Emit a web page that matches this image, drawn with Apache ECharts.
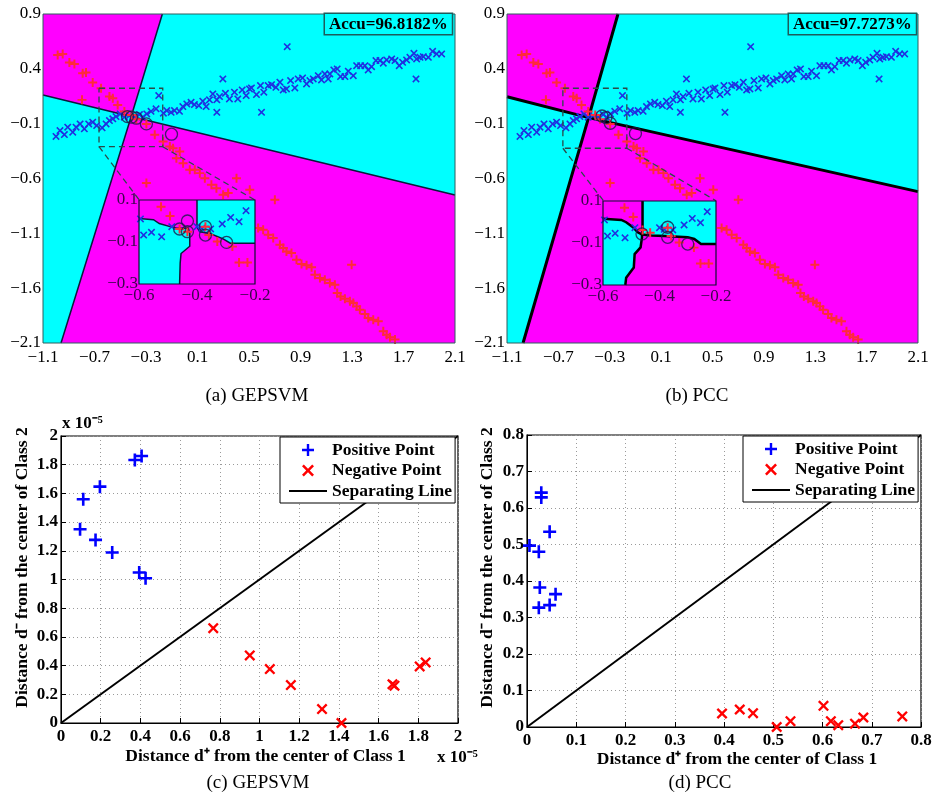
<!DOCTYPE html>
<html>
<head>
<meta charset="utf-8">
<script src="https://cdn.jsdelivr.net/npm/echarts@6/dist/echarts.min.js"></script>
<style>
  html, body { margin: 0; padding: 0; background: #fff; }
  #chart { width: 933px; height: 800px; }
</style>
</head>
<body>
<div id="chart"></div>
<script>
// tick labels
const topXTicks = [-1.1, -0.7, -0.3, 0.1, 0.5, 0.9, 1.3, 1.7, 2.1];
const topYTicks = [-2.1, -1.6, -1.1, -0.6, -0.1, 0.4, 0.9];
const insetXTicks = [-0.6, -0.4, -0.2];
const insetYTicks = [-0.3, -0.1, 0.1];

// (a)/(b) data set: class 1 (blue x) and class 2 (red +)
const class1Points = [
  [-0.999,-0.217],[-0.968,-0.163],[-0.934,-0.199],[-0.908,-0.132],[-0.869,-0.178],[-0.843,-0.132],
  [-0.812,-0.102],[-0.779,-0.147],[-0.745,-0.102],[-0.714,-0.087],[-0.683,-0.117],[-0.641,-0.138],
  [-0.610,-0.102],[-0.584,-0.072],[-0.558,-0.056],[-0.533,-0.035],[-0.501,-0.011],[-0.468,-0.041],
  [-0.429,-0.026],[-0.390,-0.041],[-0.351,-0.017],[-0.325,-0.041],[-0.294,-0.011],[-0.261,0.013],
  [-0.222,0.035],[-0.201,0.156],[-0.165,-0.005],[-0.139,0.020],[-0.105,0.004],[-0.079,0.020],
  [-0.040,0.013],[-0.014,0.056],[0.017,0.080],[0.050,0.095],[0.076,0.074],[0.110,0.065],
  [0.141,0.105],[0.167,0.056],[0.193,0.117],[0.219,0.171],[0.250,0.117],[0.271,0.147],
  [0.297,0.308],[0.250,0.004],[0.317,0.177],[0.348,0.126],[0.387,0.187],[0.413,0.126],
  [0.447,0.208],[0.478,0.156],[0.504,0.217],[0.519,0.226],[0.558,0.165],[0.589,0.247],
  [0.615,0.187],[0.649,0.247],[0.675,0.256],[0.709,0.232],[0.740,0.278],[0.766,0.208],
  [0.791,0.217],[0.823,0.293],[0.856,0.226],[0.882,0.308],[0.916,0.317],[0.947,0.262],
  [0.973,0.293],[0.999,0.308],[1.038,0.338],[1.063,0.299],[1.089,0.354],[1.115,0.308],
  [1.128,0.354],[1.159,0.390],[1.185,0.399],[1.211,0.329],[1.245,0.329],[1.271,0.378],
  [1.310,0.338],[1.336,0.429],[1.367,0.429],[1.400,0.429],[1.426,0.390],[1.452,0.420],
  [1.486,0.475],[1.517,0.475],[1.543,0.451],[1.569,0.481],[1.608,0.490],[1.634,0.475],
  [1.667,0.429],[1.693,0.460],[1.724,0.481],[1.750,0.505],[1.781,0.542],[1.802,0.490],
  [1.828,0.505],[1.854,0.511],[1.893,0.505],[1.926,0.560],[1.957,0.536],[1.996,0.536],
  [0.797,0.602],[1.797,0.308],[0.597,0.004]
];
const class2Points = [
  [-0.986,0.527],[-0.947,0.536],[-0.895,0.457],[-0.856,0.445],[-0.792,0.360],[-0.766,0.366],
  [-0.714,0.275],[-0.649,0.223],[-0.584,0.147],[-0.558,0.132],[-0.520,0.071],[-0.797,0.117],
  [-0.468,0.010],[-0.413,-0.020],[-0.375,-0.059],[-0.297,-0.102],[-0.232,-0.202],[-0.167,-0.263],
  [-0.115,-0.308],[-0.090,-0.324],[-0.038,-0.354],[-0.064,-0.415],[-0.012,-0.460],[0.040,-0.521],
  [0.079,-0.521],[0.118,-0.551],[0.157,-0.597],[0.208,-0.657],[0.247,-0.688],[0.299,-0.749],
  [0.338,-0.733],[0.403,-0.597],[0.506,-0.703],[0.701,-0.794],[-0.297,-0.642],[0.571,-1.052],
  [0.610,-1.067],[0.649,-1.113],[0.688,-1.143],[0.740,-1.204],[0.766,-1.234],[0.791,-1.265],
  [0.830,-1.280],[0.869,-1.341],[0.908,-1.380],[0.947,-1.392],[0.986,-1.410],[1.012,-1.477],
  [1.051,-1.508],[1.089,-1.523],[1.128,-1.553],[1.167,-1.568],[1.185,-1.644],[1.211,-1.675],
  [1.245,-1.696],[1.284,-1.720],[1.310,-1.735],[1.336,-1.766],[1.361,-1.796],[1.400,-1.835],
  [1.426,-1.872],[1.465,-1.887],[1.504,-1.902],[1.543,-1.993],[1.569,-2.024],[1.595,-2.048],
  [1.634,-2.069],[1.297,-1.386]
];
const gepsvmCircles = [[-0.444,-0.035],[-0.413,-0.041],[-0.375,-0.050],[-0.297,-0.102],[-0.102,-0.196]];
const pccCircles = [[-0.36,-0.03],[-0.33,-0.045],[-0.296,-0.096],[-0.10,-0.19]];

// zoomed window data
const insetClass1 = [[-0.595,0.010],[-0.584,-0.067],[-0.557,-0.054],[-0.522,-0.075],[-0.487,-0.027],
  [-0.400,-0.027],[-0.383,-0.035],[-0.353,-0.038],[-0.313,-0.014],[-0.284,0.017],[-0.255,-0.003],[-0.231,0.049]];
const insetClass2 = [[-0.524,0.068],[-0.493,0.024],[-0.460,-0.038],[-0.433,-0.051],[-0.371,-0.027],
  [-0.359,-0.067],[-0.330,-0.098],[-0.278,-0.122],[-0.255,-0.198],[-0.226,-0.198]];
const insetGepsvmCircles = [[-0.460,-0.038],[-0.433,0.000],[-0.433,-0.051],[-0.371,-0.027],[-0.371,-0.067],[-0.298,-0.102]];
const insetPccCircles = [[-0.462,-0.057],[-0.371,-0.025],[-0.371,-0.073],[-0.300,-0.105]];

// decision regions (cyan), the rest is magenta
const topFrame = [[-1.1,0.9],[2.1,0.9],[2.1,-2.1],[-1.1,-2.1]];
const insetFrame = [[-0.6,0.1],[-0.2,0.1],[-0.2,-0.3],[-0.6,-0.3]];
const gepsvmCyan = [
  [[-0.173,0.9],[2.1,0.9],[2.1,-0.75],[-0.415,-0.035]],
  [[-1.1,0.162],[-0.415,-0.035],[-0.96,-2.1],[-1.1,-2.1]]
];
const gepsvmEdges = [
  [[-0.173,0.9],[-0.415,-0.035],[-0.96,-2.1]],
  [[-1.1,0.162],[-0.415,-0.035],[2.1,-0.75]]
];
const pccCyan = [
  [[-0.236,0.9],[2.1,0.9],[2.1,-0.72],[-0.465,-0.045]],
  [[-1.1,0.146],[-0.465,-0.045],[-0.975,-2.1],[-1.1,-2.1]]
];
const pccEdges = [
  [[-0.236,0.9],[-0.465,-0.045],[-0.975,-2.1]],
  [[-1.1,0.146],[-0.465,-0.045],[2.1,-0.72]]
];
const insetGepsvmCyan = [
  [[-0.4,0.1],[-0.2,0.1],[-0.2,-0.106],[-0.285,-0.106],[-0.31,-0.085],[-0.355,-0.06],[-0.39,-0.052],[-0.4,-0.03]],
  [[-0.6,0.012],[-0.55,0.006],[-0.53,-0.012],[-0.49,-0.028],[-0.47,-0.035],[-0.43,-0.035],[-0.425,-0.06],
   [-0.425,-0.12],[-0.455,-0.155],[-0.458,-0.2],[-0.46,-0.3],[-0.6,-0.3]]
];
const insetGepsvmEdges = [
  [[-0.4,0.1],[-0.4,-0.03],[-0.39,-0.052],[-0.355,-0.06],[-0.31,-0.085],[-0.285,-0.106],[-0.2,-0.106]],
  [[-0.6,0.012],[-0.55,0.006],[-0.53,-0.012],[-0.49,-0.028],[-0.47,-0.035],[-0.43,-0.035],[-0.425,-0.06],
   [-0.425,-0.12],[-0.455,-0.155],[-0.458,-0.2],[-0.46,-0.3]]
];
const insetPccCyan = [
  [[-0.46,0.1],[-0.46,-0.03],[-0.462,-0.06],[-0.429,-0.064],[-0.382,-0.067],[-0.3,-0.073],[-0.277,-0.081],
   [-0.253,-0.105],[-0.2,-0.105],[-0.2,0.1]],
  [[-0.6,0.015],[-0.535,0.01],[-0.518,-0.001],[-0.494,-0.025],[-0.477,-0.049],[-0.462,-0.06],[-0.462,-0.073],
   [-0.467,-0.121],[-0.488,-0.153],[-0.491,-0.217],[-0.518,-0.265],[-0.521,-0.3],[-0.6,-0.3]]
];
const insetPccEdges = [
  [[-0.6,0.015],[-0.535,0.01],[-0.518,-0.001],[-0.494,-0.025],[-0.477,-0.049],[-0.462,-0.06],[-0.429,-0.064],
   [-0.382,-0.067],[-0.3,-0.073],[-0.277,-0.081],[-0.253,-0.105],[-0.2,-0.105]],
  [[-0.46,0.1],[-0.46,-0.03],[-0.462,-0.06],[-0.462,-0.073],[-0.467,-0.121],[-0.488,-0.153],[-0.491,-0.217],
   [-0.518,-0.265],[-0.521,-0.3]]
];
const gepsvmZoomLines = [
  [[-0.665,0.223],[-0.17,0.223],[-0.17,-0.31],[-0.665,-0.31],[-0.665,0.223]],
  [[-0.665,-0.31],[-0.352,-0.796]],
  [[-0.17,-0.31],[0.547,-0.796]]
];
const pccZoomLines = [
  [[-0.665,0.223],[-0.167,0.223],[-0.167,-0.324],[-0.665,-0.324],[-0.665,0.223]],
  [[-0.665,-0.324],[-0.349,-0.803]],
  [[-0.167,-0.324],[0.527,-0.803]]
];

// (c) GEPSVM, units of 1e-5
const gepsvmPositive = [[0.372,1.833],[0.406,1.861],[0.196,1.647],[0.112,1.559],[0.096,1.350],
  [0.174,1.276],[0.258,1.188],[0.394,1.049],[0.426,1.009]];
const gepsvmNegative = [[0.767,0.661],[0.951,0.471],[1.052,0.376],[1.158,0.264],[1.315,0.097],
  [1.413,0.0],[1.670,0.27],[1.680,0.26],[1.807,0.394],[1.837,0.422]];
const gepsvmSeparator = [[0,0],[2,2]];
// (d) PCC
const pccPositive = [[0.029,0.642],[0.029,0.629],[0.046,0.535],[0.005,0.497],[0.024,0.480],
  [0.026,0.382],[0.058,0.364],[0.024,0.327],[0.046,0.334]];
const pccNegative = [[0.396,0.037],[0.432,0.048],[0.459,0.038],[0.507,0.0],[0.535,0.016],[0.602,0.058],
  [0.617,0.016],[0.632,0.005],[0.666,0.009],[0.683,0.026],[0.762,0.029]];
const pccSeparator = [[0,0],[0.8,0.8]];

const FONT = '"Liberation Serif", "Times New Roman", serif';
const CYAN = '#00ffff', MAGENTA = '#ff00ff';
const PLUS = 'path://M0,4H4V0H6V4H10V6H6V10H4V6H0Z';
const PLUS_THIN = 'path://M0,3.9H3.9V0H6.1V3.9H10V6.1H6.1V10H3.9V6.1H0Z';
const CROSS = 'path://M0,1.5L1.5,0L5,3.5L8.5,0L10,1.5L6.5,5L10,8.5L8.5,10L5,6.5L1.5,10L0,8.5L3.5,5Z';
const LINE_ICON = 'path://M0,0H38V2.2H0Z';

function fmtMinus(v) {
    return (Math.round(v * 10) / 10).toFixed(1).replace('-', '\u2212');
}

function polySeries(polys, idx, color, z) {
    return {
        type: 'custom', xAxisIndex: idx, yAxisIndex: idx, z: z, silent: true,
        data: polys.map(function(p, i) { return [p[0][0], p[0][1], i]; }),
        renderItem: function(params, api) {
            const pts = polys[params.dataIndex].map(function(p) { return api.coord(p); });
            return { type: 'polygon', shape: { points: pts }, style: { fill: color } };
        }
    };
}

function pathSeries(lines, idx, color, width, dash, z) {
    return {
        type: 'custom', xAxisIndex: idx, yAxisIndex: idx, z: z, silent: true,
        data: lines.map(function(p, i) { return [p[0][0], p[0][1], i]; }),
        renderItem: function(params, api) {
            const pts = lines[params.dataIndex].map(function(p) { return api.coord(p); });
            return {
                type: 'polyline', shape: { points: pts },
                style: { stroke: color, lineWidth: width, fill: null, lineDash: dash || null }
            };
        }
    };
}

function scatter(name, data, idx, symbol, size, color, z) {
    return {
        name: name, type: 'scatter', xAxisIndex: idx, yAxisIndex: idx, z: z, clip: false,
        symbol: symbol, symbolSize: size, data: data, silent: true,
        itemStyle: { color: color, opacity: 1 }
    };
}

function circles(data, idx, z) {
    return {
        type: 'scatter', xAxisIndex: idx, yAxisIndex: idx, z: z, clip: false, silent: true,
        symbol: 'circle', symbolSize: 12, data: data,
        itemStyle: { color: 'rgba(0,0,0,0)', borderColor: '#1a1a4a', borderWidth: 1.3 }
    };
}

function topAxis(idx, isX, inset) {
    const ticks = isX ? (inset ? insetXTicks : topXTicks) : (inset ? insetYTicks : topYTicks);
    const range = isX ? (inset ? [-0.6, -0.2] : [-1.1, 2.1]) : (inset ? [-0.3, 0.1] : [-2.1, 0.9]);
    return {
        gridIndex: idx, type: 'value', min: range[0], max: range[1], z: inset ? 25 : 2,
        axisLine: { show: false }, axisTick: { show: false }, splitLine: { show: false },
        axisLabel: {
            customValues: ticks, formatter: fmtMinus,
            margin: isX ? (inset ? 3 : 6) : (inset ? 1 : 2),
            color: inset ? 'rgba(25,5,45,0.85)' : '#000', fontFamily: FONT, fontSize: 17
        }
    };
}

function bottomAxis(idx, isX, max, interval, name, pad, gap) {
    return {
        gridIndex: idx, type: 'value', min: 0, max: max, interval: interval,
        axisLine: { show: true, lineStyle: { color: '#000', width: 1 } },
        axisTick: { show: true, inside: true, length: 5, lineStyle: { color: '#000' } },
        splitLine: { show: true, lineStyle: { color: '#9a9a9a', type: [1, 3], width: 1 } },
        axisLabel: { margin: isX ? 5 : 3, color: '#000', fontFamily: FONT, fontSize: 17, fontWeight: 'bold' },
        name: name, nameLocation: 'middle', nameGap: gap, nameRotate: isX ? 0 : 90,
        nameTextStyle: { color: '#000', fontFamily: FONT, fontSize: 17.5, fontWeight: 'bold', lineHeight: 17, padding: pad }
    };
}

function legendAt(left, top) {
    return {
        orient: 'vertical', left: left, top: top, padding: [4, 3, 3, 9],
        itemWidth: 38, itemHeight: 12, itemGap: 2.5, symbolKeepAspect: true,
        backgroundColor: '#fff', borderColor: '#000', borderWidth: 1, borderRadius: 0,
        selectedMode: false, z: 10,
        data: [
            { name: 'Positive Point' },
            { name: 'Negative Point' },
            { name: 'Separating Line', icon: LINE_ICON }
        ],
        textStyle: { color: '#000', fontFamily: FONT, fontSize: 17.5, fontWeight: 'bold', lineHeight: 17 }
    };
}

const nameX = 'Distance d\u207A from the center of Class 1';
const nameY = 'Distance d\u207B from the center of Class 2';

const series = [
    // (a) main
    polySeries([topFrame], 0, MAGENTA, 1),
    polySeries(gepsvmCyan, 0, CYAN, 2),
    pathSeries(gepsvmEdges, 0, '#0a1a3a', 1.5, null, 3),
    scatter('class1 a', class1Points, 0, CROSS, 7.5, '#2030e0', 4),
    scatter('class2 a', class2Points, 0, PLUS_THIN, 9, '#ff2a3a', 4),
    circles(gepsvmCircles, 0, 5),
    pathSeries(gepsvmZoomLines, 0, '#2a4a48', 1.3, [6, 4], 6),
    // (a) inset
    polySeries([insetFrame], 2, MAGENTA, 12),
    polySeries(insetGepsvmCyan, 2, CYAN, 13),
    pathSeries(insetGepsvmEdges, 2, '#0a1a3a', 1.5, null, 14),
    scatter('class1 ai', insetClass1, 2, CROSS, 7.5, '#2030e0', 15),
    scatter('class2 ai', insetClass2, 2, PLUS_THIN, 9, '#ff2a3a', 15),
    circles(insetGepsvmCircles, 2, 16),
    // (b) main
    polySeries([topFrame], 1, MAGENTA, 1),
    polySeries(pccCyan, 1, CYAN, 2),
    pathSeries(pccEdges, 1, '#000', 3, null, 3),
    scatter('class1 b', class1Points, 1, CROSS, 7.5, '#2030e0', 4),
    scatter('class2 b', class2Points, 1, PLUS_THIN, 9, '#ff2a3a', 4),
    circles(pccCircles, 1, 5),
    pathSeries(pccZoomLines, 1, '#2a4a48', 1.3, [6, 4], 6),
    // (b) inset
    polySeries([insetFrame], 3, MAGENTA, 12),
    polySeries(insetPccCyan, 3, CYAN, 13),
    pathSeries(insetPccEdges, 3, '#000', 2.5, null, 14),
    scatter('class1 bi', insetClass1, 3, CROSS, 7.5, '#2030e0', 15),
    scatter('class2 bi', insetClass2, 3, PLUS_THIN, 9, '#ff2a3a', 15),
    circles(insetPccCircles, 3, 16),
    // (c)
    { name: 'Separating Line', type: 'line', xAxisIndex: 4, yAxisIndex: 4, data: gepsvmSeparator,
      symbol: 'none', z: 2, silent: true, itemStyle: { color: '#000' }, lineStyle: { color: '#000', width: 2 } },
    scatter('Positive Point', gepsvmPositive, 4, PLUS, 13, '#0000ff', 3),
    scatter('Negative Point', gepsvmNegative, 4, CROSS, 11, '#ff0000', 3),
    // (d)
    { name: 'Separating Line', type: 'line', xAxisIndex: 5, yAxisIndex: 5, data: pccSeparator,
      symbol: 'none', z: 2, silent: true, itemStyle: { color: '#000' }, lineStyle: { color: '#000', width: 2 } },
    scatter('Positive Point', pccPositive, 5, PLUS, 13, '#0000ff', 3),
    scatter('Negative Point', pccNegative, 5, CROSS, 11, '#ff0000', 3)
];

function label(text, x, y, size, weight, align) {
    return {
        type: 'text', x: x, y: y, z: 40,
        style: {
            text: text, fill: '#000', align: align || 'center', verticalAlign: 'middle',
            font: (weight || 'normal') + ' ' + size + 'px ' + FONT
        }
    };
}

function accuBox(text, x, y) {
    return {
        type: 'text', x: x, y: y, z: 40,
        style: {
            text: text, fill: '#000', font: 'bold 17px ' + FONT,
            backgroundColor: CYAN, borderColor: '#1d5c5c', borderWidth: 1.5, padding: [2, 4, 1, 4]
        }
    };
}

const chart = echarts.init(document.getElementById('chart'), null, { renderer: 'canvas' });
chart.setOption({
    animation: false,
    backgroundColor: '#fff',
    grid: [
        { left: 43, top: 14, width: 412, height: 329, show: true, borderColor: '#2f5f5f', borderWidth: 1, backgroundColor: 'transparent', z: 7, outerBoundsMode: 'none' },
        { left: 507, top: 14, width: 411, height: 329, show: true, borderColor: '#2f5f5f', borderWidth: 1, backgroundColor: 'transparent', z: 7, outerBoundsMode: 'none' },
        { left: 139, top: 200, width: 116, height: 84, show: true, borderColor: '#101030', borderWidth: 1.2, backgroundColor: 'transparent', z: 20, outerBoundsMode: 'none' },
        { left: 603, top: 201, width: 113, height: 84, show: true, borderColor: '#101030', borderWidth: 1.2, backgroundColor: 'transparent', z: 20, outerBoundsMode: 'none' },
        { left: 61, top: 436, width: 397, height: 287, show: true, borderColor: '#000', borderWidth: 1.2, backgroundColor: '#fff', outerBoundsMode: 'none' },
        { left: 527, top: 435, width: 394, height: 292, show: true, borderColor: '#000', borderWidth: 1.2, backgroundColor: '#fff', outerBoundsMode: 'none' }
    ],
    xAxis: [
        topAxis(0, true, false), topAxis(1, true, false),
        topAxis(2, true, true), topAxis(3, true, true),
        bottomAxis(4, true, 2, 0.2, nameX, [0, 0, 0, 12], 25),
        bottomAxis(5, true, 0.8, 0.1, nameX, [0, 0, 0, 26], 24)
    ],
    yAxis: [
        topAxis(0, false, false), topAxis(1, false, false),
        topAxis(2, false, true), topAxis(3, false, true),
        bottomAxis(4, false, 2, 0.2, nameY, [0, 0, 0, 24], 30),
        bottomAxis(5, false, 0.8, 0.1, nameY, [0, 0, 0, 27], 31)
    ],
    legend: [legendAt(280, 437), legendAt(743, 436)],
    series: series,
    graphic: [
        accuBox('Accu=96.8182%', 325, 14),
        accuBox('Accu=97.7273%', 789, 14),
        label('(a) GEPSVM', 257, 396, 19),
        label('(b) PCC', 697, 396, 19),
        label('(c) GEPSVM', 258, 783, 19),
        label('(d) PCC', 700, 783, 19),
        label('x 10\u207B\u2075', 62, 424, 17, 'bold', 'left'),
        label('x 10\u207B\u2075', 437, 758, 17, 'bold', 'left')
    ]
});
</script>
</body>
</html>
